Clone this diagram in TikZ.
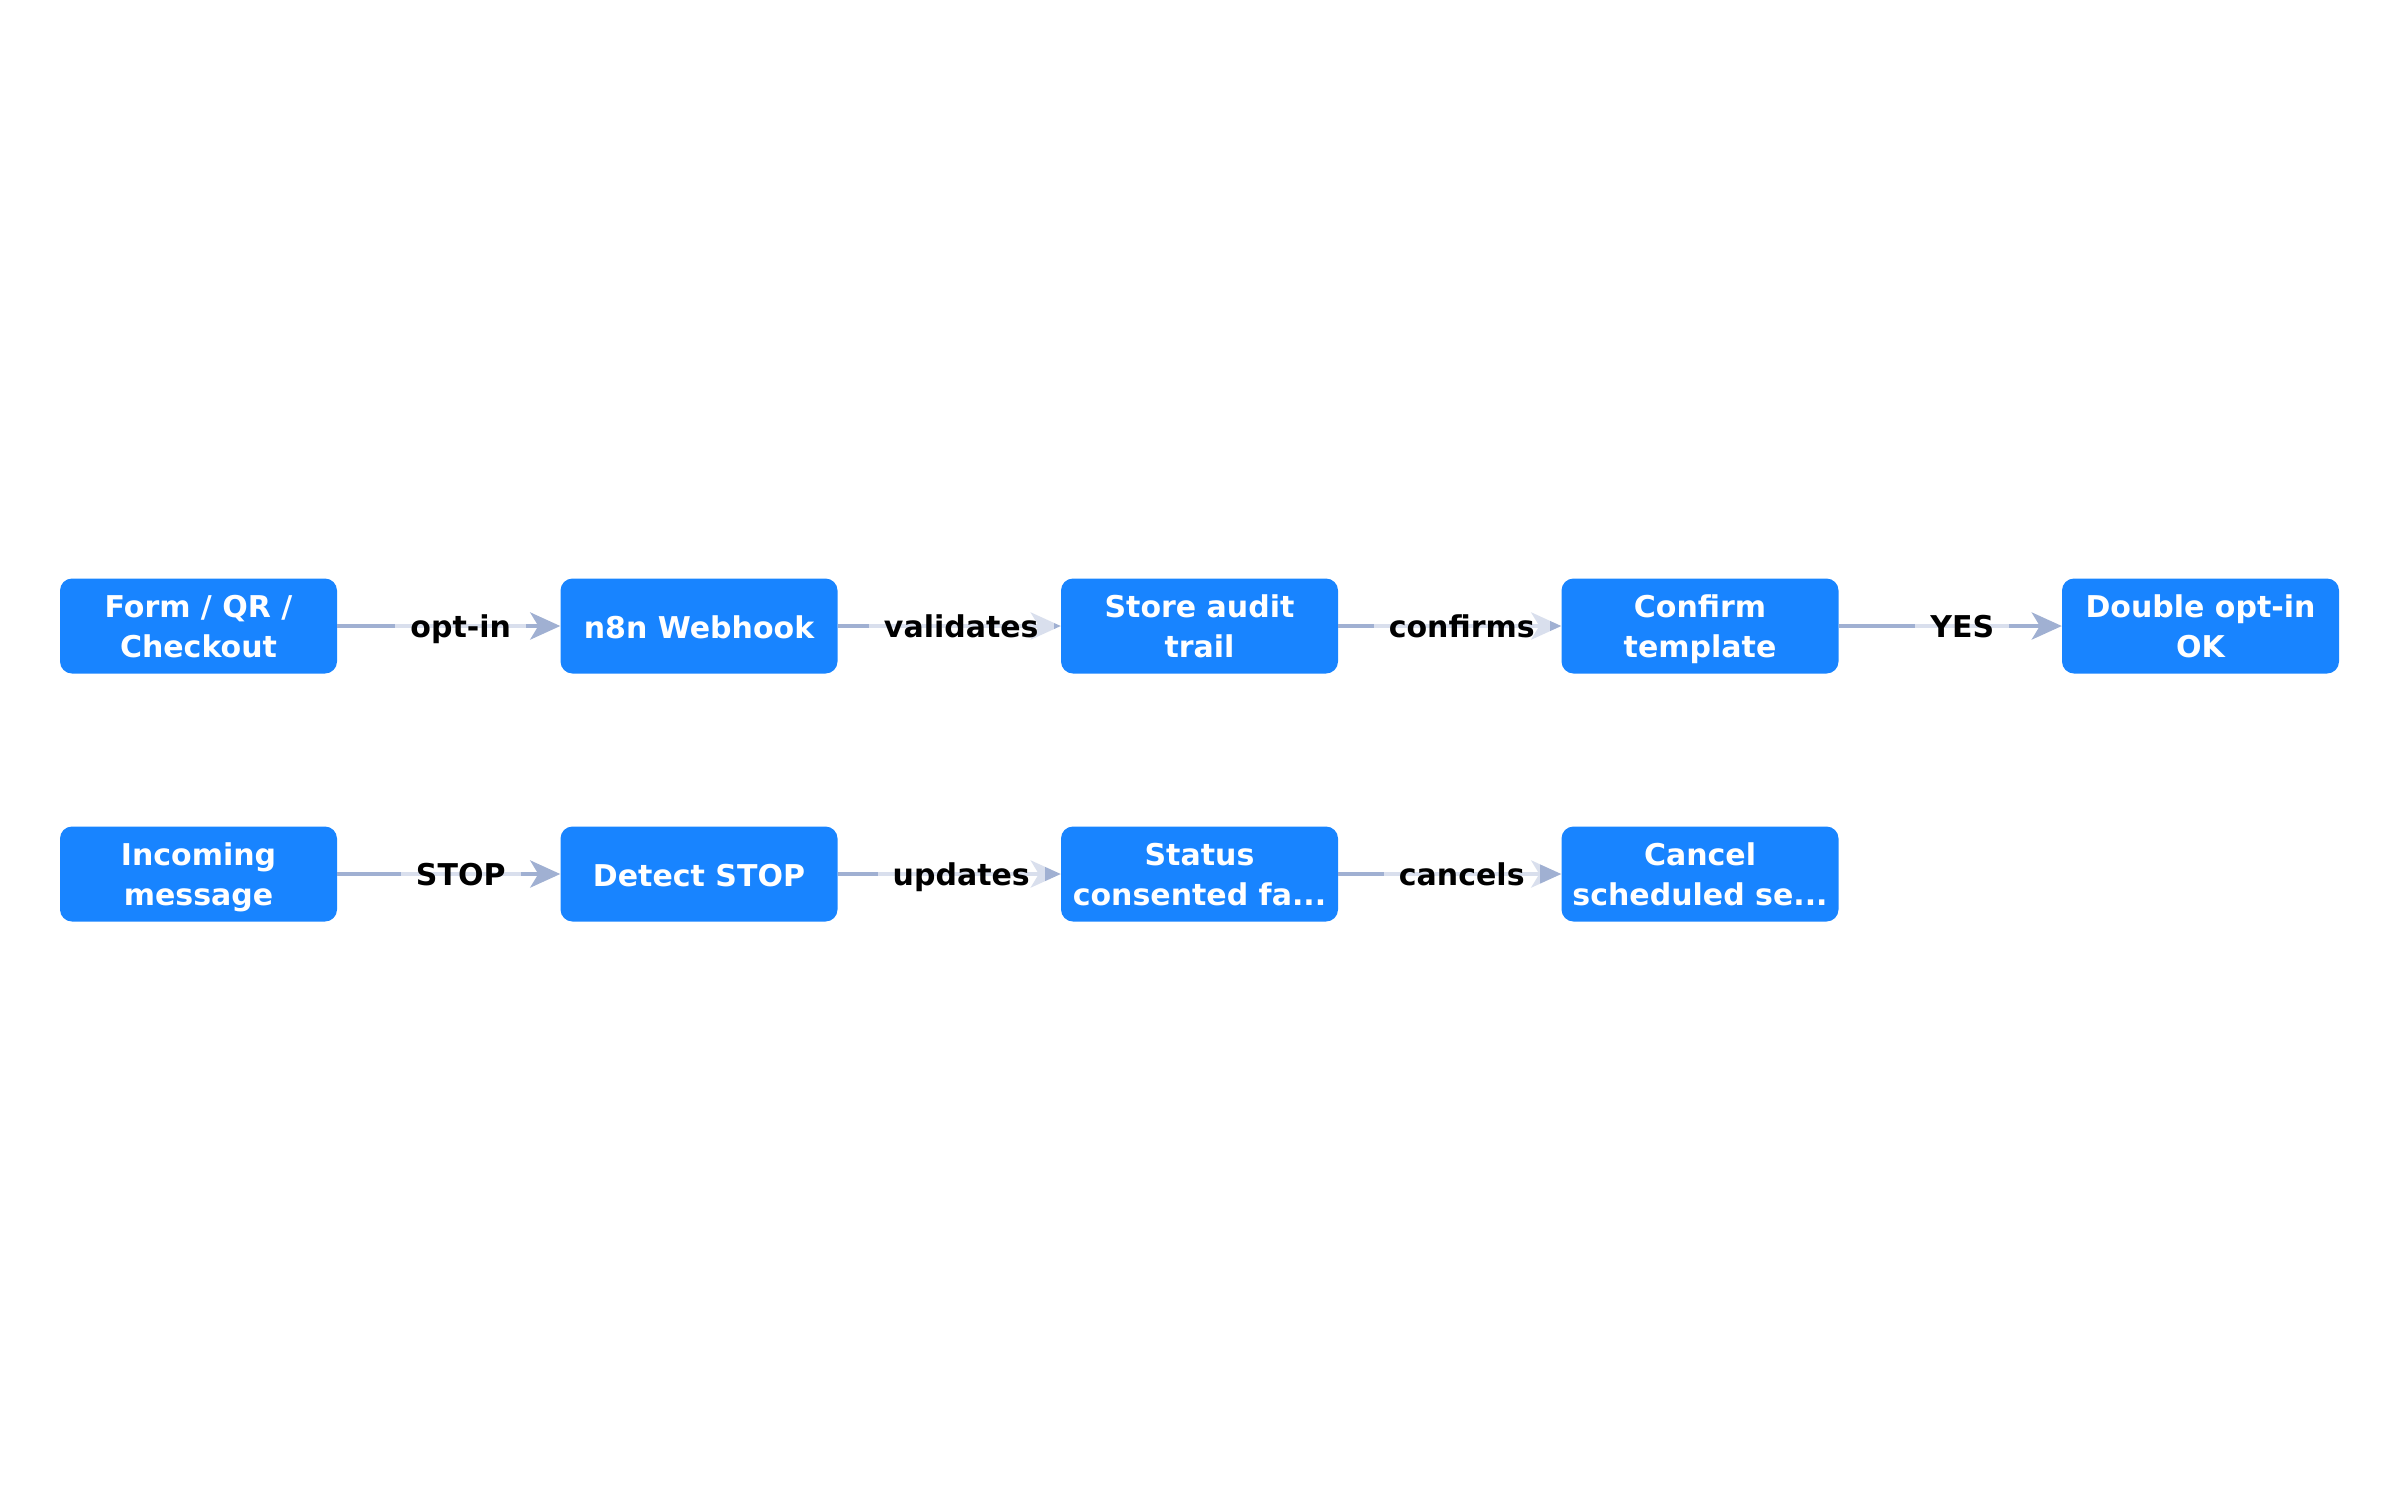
\documentclass[tikz,border=0pt]{standalone}
\usepackage{fontspec}
\setmainfont{DejaVu Sans}
\usetikzlibrary{arrows.meta}
\definecolor{boxblue}{RGB}{24,132,255}
\definecolor{edgecol}{RGB}{160,176,210}
\newcommand{\tstr}{\rule{0pt}{30pt}}
\tikzset{
  box/.style={draw=none, fill=boxblue, rounded corners=12pt, minimum width=277pt, minimum height=95pt,
    text=white, align=center, font=\fontsize{30}{40}\selectfont\bfseries, inner sep=0pt,
    execute at end node={\rule[-7pt]{0pt}{7pt}}},
  edge/.style={draw=edgecol, line width=4.5pt, -{Stealth[length=30pt, width=27pt, inset=8pt]}},
  lbl/.style={fill=white, fill opacity=0.6, text opacity=1, text=black, inner xsep=15pt, inner ysep=4pt,
    text height=29pt, text depth=7pt,
    font=\fontsize{30}{36}\selectfont\bfseries, xshift=12pt, pos=0.5}
}
\begin{document}
\begin{tikzpicture}[x=1pt, y=-1pt]
\useasboundingbox (0,0) rectangle (2400,1500);
\node[box] (a1) at (198.5,626) {\tstr Form / QR /\\Checkout};
\node[box] (a2) at (699,626) {\rule{0pt}{32pt}n8n Webhook};
\node[box] (a3) at (1199.5,626) {\tstr Store audit\\trail};
\node[box] (a4) at (1700,626) {\tstr Confirm\\template};
\node[box] (a5) at (2200.5,626) {\tstr Double opt-in\\OK};
\node[box] (b1) at (198.5,874) {\tstr Incoming\\message};
\node[box] (b2) at (699,874) {\rule{0pt}{32pt}Detect STOP};
\node[box] (b3) at (1199.5,874) {\tstr Status\\consented fa...};
\node[box] (b4) at (1700,874) {\tstr Cancel\\scheduled se...};
\draw[edge] (a1) -- (a2) node[lbl] {opt-in};
\draw[edge] (a2) -- (a3) node[lbl] {validates};
\draw[edge] (a3) -- (a4) node[lbl] {confirms};
\draw[edge] (a4) -- (a5) node[lbl] {YES};
\draw[edge] (b1) -- (b2) node[lbl] {STOP};
\draw[edge] (b2) -- (b3) node[lbl] {updates};
\draw[edge] (b3) -- (b4) node[lbl] {cancels};
\end{tikzpicture}
\end{document}
